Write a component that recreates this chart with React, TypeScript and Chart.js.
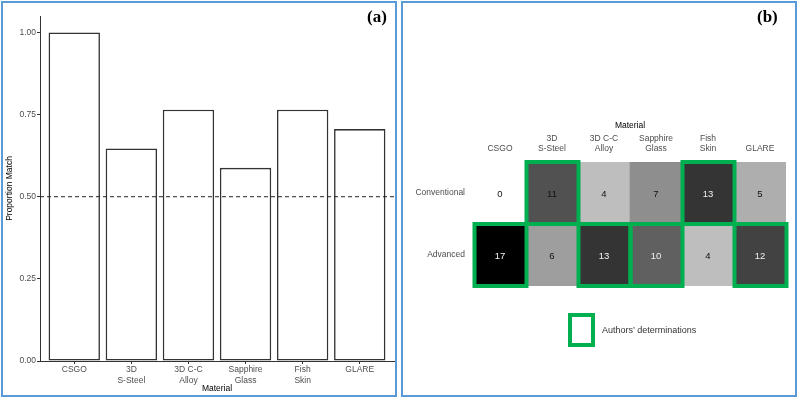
import React, { useEffect, useRef } from "react";
import { Chart, registerables } from "chart.js";

Chart.register(...registerables);

// ---------- data ----------
const materials: string[][] = [
  ["CSGO"],
  ["3D", "S-Steel"],
  ["3D C-C", "Alloy"],
  ["Sapphire", "Glass"],
  ["Fish", "Skin"],
  ["GLARE"],
];
const proportionMatch = [1.0, 0.647, 0.765, 0.588, 0.765, 0.706];
const yTickValues = [0, 0.25, 0.5, 0.75, 1.0];
const referenceLine = 0.5;

const rowLabels = ["Conventional", "Advanced"]; // top to bottom
const conventionalCounts = [0, 11, 4, 7, 13, 5];
const advancedCounts = [17, 6, 13, 10, 4, 12];
const conventionalAuthors = [false, true, false, false, true, false];
const advancedAuthors = [true, false, true, true, false, true];
const countMax = 17;

// ---------- styles ----------
const FONT = "'Liberation Sans', Arial, sans-serif";
const GREEN = "#00b050";
const PANEL_BORDER = "#5b9bd5";
const conventionalTextLight = [false, false, false, false, true, false];
const advancedTextLight = [true, false, true, true, false, true];

const grayFor = (v: number) => {
  const g = Math.round(255 * Math.pow(1 - v / countMax, 1.1));
  return `rgb(${g},${g},${g})`;
};

function BarPanel() {
  const ref = useRef<HTMLCanvasElement>(null);
  useEffect(() => {
    const chart = new Chart(ref.current!, {
      type: "bar",
      data: {
        datasets: [
          {
            type: "line",
            data: [
              { x: -0.6, y: referenceLine },
              { x: materials.length - 0.4, y: referenceLine },
            ],
            borderColor: "#222",
            borderWidth: 1,
            borderDash: [4, 3],
            pointRadius: 0,
            fill: false,
            order: 0,
          } as any,
          {
            type: "bar",
            data: proportionMatch.map((v, i) => ({ x: i, y: v })),
            backgroundColor: "#ffffff",
            borderColor: "#333333",
            borderWidth: 1.6,
            borderSkipped: false,
            barPercentage: 0.9,
            categoryPercentage: 1,
            order: 1,
          } as any,
        ],
      },
      options: {
        responsive: false,
        animation: false,
        devicePixelRatio: 1,
        layout: { padding: { top: 13, right: 1, left: 0, bottom: 0 } },
        plugins: { legend: { display: false }, tooltip: { enabled: false } },
        scales: {
          x: {
            type: "linear",
            offset: false,
            min: -0.6,
            max: materials.length - 0.4,
            afterBuildTicks: (axis: any) => {
              axis.ticks = materials.map((_, i) => ({ value: i }));
            },
            afterFit: (s: any) => {
              s.height = 33;
            },
            ticks: {
              callback: (v: any) => materials[v as number],
              font: { family: FONT, size: 8.5 },
              color: "#4d4d4d",
              padding: 1,
              maxRotation: 0,
              autoSkip: false,
            },
            grid: { display: true, offset: false, drawOnChartArea: false, drawTicks: true, tickLength: 3, color: "#333" },
            border: { display: true, color: "#333", width: 1 },
            title: {
              display: true,
              text: "Material",
              color: "#000",
              font: { family: FONT, size: 8.5 },
              padding: { top: 1, bottom: 0 },
            },
          },
          y: {
            type: "linear",
            min: 0,
            max: 1.05,
            afterBuildTicks: (axis: any) => {
              axis.ticks = yTickValues.map((v) => ({ value: v }));
            },
            afterFit: (s: any) => {
              s.width = 37;
            },
            ticks: {
              callback: (v: any) => Number(v).toFixed(2),
              font: { family: FONT, size: 8.5 },
              color: "#4d4d4d",
              padding: 1,
            },
            grid: { display: true, drawOnChartArea: false, drawTicks: true, tickLength: 3, color: "#333" },
            border: { display: true, color: "#333", width: 1 },
            title: {
              display: true,
              text: "Proportion Match",
              color: "#000",
              font: { family: FONT, size: 8.5 },
              padding: { top: 2, bottom: 0 },
            },
          },
        },
      },
    });
    return () => chart.destroy();
  }, []);
  return (
    <canvas
      ref={ref}
      width={392}
      height={391}
      style={{ position: "absolute", left: 3, top: 3, width: 392, height: 391, display: "block" }}
    />
  );
}

function HeatPanel() {
  const ref = useRef<HTMLCanvasElement>(null);
  useEffect(() => {
    // datasets bottom-up: Advanced first, Conventional stacked above
    const rows = [
      { label: rowLabels[1], counts: advancedCounts, authors: advancedAuthors, light: advancedTextLight },
      { label: rowLabels[0], counts: conventionalCounts, authors: conventionalAuthors, light: conventionalTextLight },
    ];
    const overlay = {
      id: "heatOverlay",
      afterDatasetsDraw(chart: any) {
        const ctx = chart.ctx;
        ctx.save();
        rows.forEach((row, di) => {
          const meta = chart.getDatasetMeta(di);
          meta.data.forEach((el: any, i: number) => {
            const { x, y, base } = el.getProps(["x", "y", "base"], true);
            ctx.fillStyle = row.light[i] ? "#f2f2f2" : "#111";
            ctx.font = `9.5px ${FONT}`;
            ctx.textAlign = "center";
            ctx.textBaseline = "middle";
            ctx.fillText(String(row.counts[i]), x, (y + base) / 2 + 1);
          });
        });
        ctx.strokeStyle = GREEN;
        ctx.lineWidth = 4;
        rows.forEach((row, di) => {
          const meta = chart.getDatasetMeta(di);
          meta.data.forEach((el: any, i: number) => {
            if (!row.authors[i]) return;
            const { x, y, base, width } = el.getProps(["x", "y", "base", "width"], true);
            const top = Math.min(y, base);
            const h = Math.abs(base - y);
            ctx.strokeRect(x - width / 2 + 0.5, top, width, h);
          });
        });
        ctx.restore();
      },
    };
    const chart = new Chart(ref.current!, {
      type: "bar",
      data: {
        labels: materials as any,
        datasets: rows.map((row) => ({
          label: row.label,
          data: row.counts.map(() => 1),
          backgroundColor: row.counts.map(grayFor),
          borderWidth: 0,
          barPercentage: 1,
          categoryPercentage: 1,
          stack: "rows",
        })),
      },
      options: {
        responsive: false,
        animation: false,
        devicePixelRatio: 1,
        layout: { padding: { top: 117, right: 9, left: 0, bottom: 108 } },
        plugins: { legend: { display: false }, tooltip: { enabled: false } },
        scales: {
          x: {
            type: "category",
            position: "top",
            stacked: true,
            afterFit: (s: any) => {
              s.height = 42;
            },
            ticks: {
              font: { family: FONT, size: 8.5 },
              color: "#4d4d4d",
              padding: 8,
              maxRotation: 0,
              autoSkip: false,
            },
            grid: { display: false, drawTicks: false },
            border: { display: false },
            title: {
              display: true,
              text: "Material",
              color: "#000",
              font: { family: FONT, size: 8.5 },
              padding: { top: 1, bottom: 0 },
            },
          },
          y: {
            type: "linear",
            stacked: true,
            min: 0,
            max: rows.length,
            afterBuildTicks: (axis: any) => {
              axis.ticks = rows.map((_, i) => ({ value: i + 0.5 }));
            },
            afterFit: (s: any) => {
              s.width = 71;
            },
            ticks: {
              callback: (v: any) => rows[Math.floor(v as number)].label,
              font: { family: FONT, size: 8.5 },
              color: "#4d4d4d",
              padding: 9,
            },
            grid: { display: false, drawTicks: false },
            border: { display: false },
          },
        },
      },
      plugins: [overlay],
    });
    return () => chart.destroy();
  }, []);
  return (
    <canvas
      ref={ref}
      width={392}
      height={391}
      style={{ position: "absolute", left: 403, top: 3, width: 392, height: 391, display: "block" }}
    />
  );
}

export default function App() {
  const panel: React.CSSProperties = {
    position: "absolute",
    top: 1,
    height: 396,
    boxSizing: "border-box",
    border: `2px solid ${PANEL_BORDER}`,
    background: "#fff",
  };
  const tag: React.CSSProperties = {
    position: "absolute",
    top: 7,
    fontFamily: "'Liberation Serif', 'Times New Roman', serif",
    fontWeight: "bold",
    fontSize: 17,
    lineHeight: "20px",
    color: "#000",
  };
  return (
    <div style={{ position: "absolute", left: 0, top: 0, width: 800, height: 399, background: "#fff", overflow: "hidden" }}>
      <div style={{ ...panel, left: 1, width: 396 }} />
      <div style={{ ...panel, left: 401, width: 396 }} />
      <BarPanel />
      <HeatPanel />
      <div style={{ ...tag, left: 367 }}>(a)</div>
      <div style={{ ...tag, left: 757 }}>(b)</div>
      <div
        style={{
          position: "absolute",
          left: 568,
          top: 313,
          width: 27,
          height: 34,
          boxSizing: "border-box",
          border: `4px solid ${GREEN}`,
          background: "#fff",
        }}
      />
      <div
        style={{
          position: "absolute",
          left: 602,
          top: 323,
          fontFamily: "'Liberation Sans', Arial, sans-serif",
          fontSize: 9,
          lineHeight: "14px",
          color: "#333",
          whiteSpace: "nowrap",
        }}
      >
        Authors’ determinations
      </div>
    </div>
  );
}
